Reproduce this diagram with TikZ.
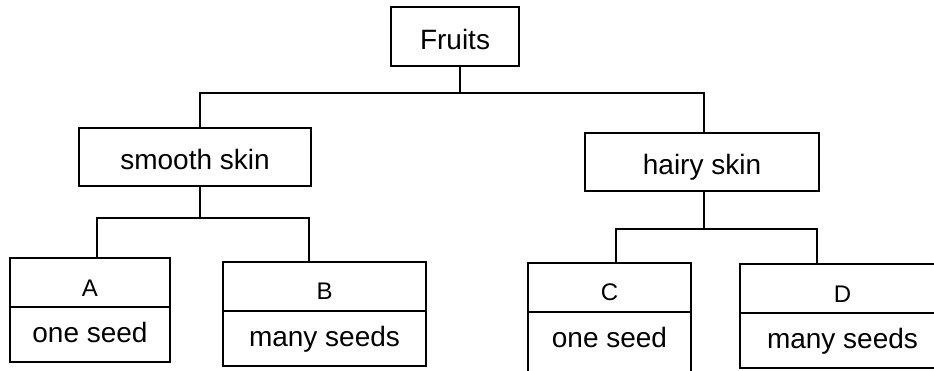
\documentclass[tikz,border=0pt]{standalone}
\usepackage{fontspec}
\setmainfont{Liberation Sans}
\usetikzlibrary{positioning}

\begin{document}
\begin{tikzpicture}[x=1pt,y=-1pt,
    box/.style={draw,line width=1.6pt,inner sep=0pt,outer sep=0pt,font=\fontsize{28}{30}\selectfont,text height=26pt,text depth=0pt},
    letterbox/.style={draw,line width=1.6pt,inner sep=0pt,outer sep=0pt,font=\fontsize{24}{26}\selectfont,text height=38pt,text depth=11pt},
    seedbox/.style={draw,line width=1.6pt,inner sep=0pt,outer sep=0pt,font=\fontsize{28}{30}\selectfont,text height=35pt,text depth=20pt},
    link/.style={line width=1.6pt}]
    \path[use as bounding box,clip] (0,0) rectangle (934,371);
    \fill[white] (0,0) rectangle (934,371);
    % Fruits
    \node[box,minimum width=128pt,minimum height=59pt] (fruits) at (455,36.5) {Fruits};
    % skins
    \node[box,minimum width=232pt,minimum height=58pt] (smooth) at (195,157) {smooth skin};
    \node[box,minimum width=234pt,minimum height=58pt] (hairy) at (702,162) {hairy skin};
    % A, B
    \node[letterbox,minimum width=160pt,anchor=north west] (A) at (10,258) {A};
    \node[seedbox,minimum width=160pt,below=0pt of A] (A1) {one seed};
    \node[letterbox,minimum width=203pt,anchor=north west] (B) at (223,262) {B};
    \node[seedbox,minimum width=203pt,below=0pt of B] (B1) {many seeds};
    % C, D
    \node[letterbox,minimum width=163pt,anchor=north west] (C) at (528,263) {C};
    \node[seedbox,minimum width=163pt,text depth=27pt,below=0pt of C] (C1) {one seed};
    \node[letterbox,minimum width=205pt,anchor=north west] (D) at (740,264) {D};
    \node[seedbox,minimum width=205pt,below=0pt of D] (D1) {many seeds};
    % forks
    \coordinate (k0) at (460,93);
    \coordinate (sS) at (200,93);
    \coordinate (sH) at (704,93);
    \coordinate (k1) at (200,218);
    \coordinate (sA) at (97,218);
    \coordinate (sB) at (309,218);
    \coordinate (k2) at (704,229);
    \coordinate (sC) at (616,229);
    \coordinate (sD) at (817,229);
    % lines
    \draw[link] (fruits.south -| k0) -- (k0);
    \draw[link] (smooth.north -| sS) -- (sS) -- (sH) -- (hairy.north -| sH);
    \draw[link] (smooth.south -| k1) -- (k1);
    \draw[link] (A.north -| sA) -- (sA) -- (sB) -- (B.north -| sB);
    \draw[link] (hairy.south -| k2) -- (k2);
    \draw[link] (C.north -| sC) -- (sC) -- (sD) -- (D.north -| sD);
\end{tikzpicture}
\end{document}
